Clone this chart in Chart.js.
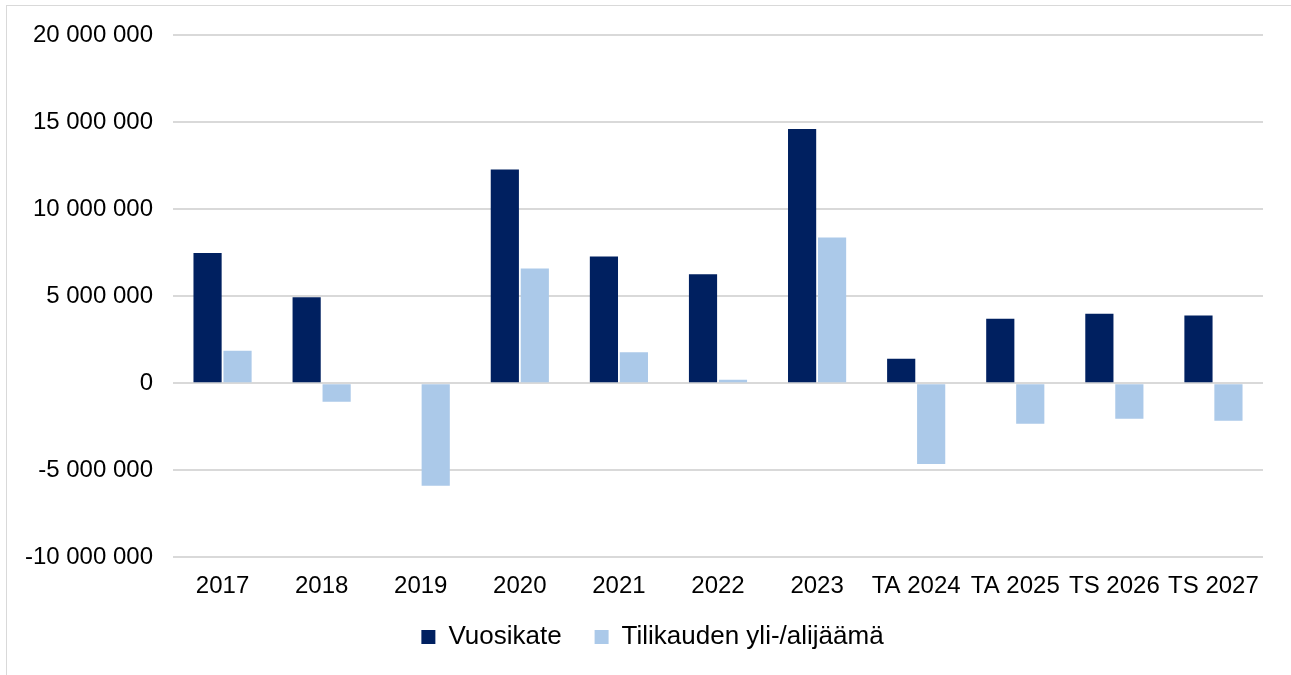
<!DOCTYPE html>
<html>
<head>
<meta charset="utf-8">
<script src="https://cdn.jsdelivr.net/npm/chart.js@4.4.1/dist/chart.umd.min.js"></script>
<style>
  html, body { margin: 0; padding: 0; background: #fff; overflow: hidden; }
  #frame {
    position: absolute; left: 6px; top: 5px; width: 1400px; height: 800px;
    border-left: 1px solid #d9d9d9; border-top: 1px solid #d9d9d9;
  }
  #wrap { position: absolute; left: 0; top: 0; width: 1291px; height: 675px; }
</style>
</head>
<body>
<div id="frame"></div>
<div id="wrap"><canvas id="chart"></canvas></div>
<script>
// categories and series
const categories = ['2017', '2018', '2019', '2020', '2021', '2022', '2023', 'TA 2024', 'TA 2025', 'TS 2026', 'TS 2027'];
const vuosikate  = [7480000, 4930000, 0, 12280000, 7280000, 6250000, 14600000, 1400000, 3700000, 3990000, 3890000];
const tilikausi  = [1860000, -1070000, -5900000, 6590000, 1780000, 200000, 8370000, -4650000, -2340000, -2050000, -2160000];
const yTicks     = [-10000000, -5000000, 0, 5000000, 10000000, 15000000, 20000000];

const NAVY  = '#002060';
const LIGHT = '#abc9e9';
const GRID  = '#d9d9d9';
const FONT  = "'Liberation Sans', Arial, sans-serif";

// 20 000 000 -muotoilu
function fmt(v) {
  const s = Math.abs(v).toString().replace(/\B(?=(\d{3})+(?!\d))/g, ' ');
  return (v < 0 ? '-' : '') + s;
}

// legend sits a bit right of centre and closer to the axis in the original
const legendShift = {
  id: 'legendShift',
  afterLayout(chart) {
    const lg = chart.legend;
    if (!lg) return;
    lg.left += 21; lg.right += 21;
    lg.top -= 25; lg.bottom -= 25;
    if (lg.adjustHitBoxes) lg.adjustHitBoxes();
  }
};

new Chart(document.getElementById('chart'), {
  type: 'bar',
  data: {
    labels: categories,
    datasets: [
      { label: 'Vuosikate', data: vuosikate, backgroundColor: NAVY,
        categoryPercentage: 0.605, barPercentage: 0.94 },
      { label: 'Tilikauden yli-/alijäämä', data: tilikausi, backgroundColor: LIGHT,
        categoryPercentage: 0.605, barPercentage: 0.94 }
    ]
  },
  plugins: [legendShift],
  options: {
    responsive: true,
    maintainAspectRatio: false,
    animation: false,
    layout: { padding: { top: 35, right: 28, bottom: -10, left: 0 } },
    plugins: {
      tooltip: { enabled: false },
      legend: {
        position: 'bottom',
        labels: {
          color: '#000',
          font: { family: FONT, size: 26 },
          boxWidth: 14, boxHeight: 14,
          padding: 33
        }
      }
    },
    scales: {
      x: {
        grid: { display: false, drawTicks: false },
        border: { display: false },
        ticks: { color: '#000', font: { family: FONT, size: 24 }, padding: 15, maxRotation: 0, autoSkip: false }
      },
      y: {
        min: -10000000, max: 20000000,
        afterFit(scale) { scale.width = 173; },
        afterBuildTicks(scale) { scale.ticks = yTicks.map(v => ({ value: v })); },
        grid: { color: GRID, lineWidth: 2, drawTicks: false },
        border: { display: false },
        ticks: { color: '#000', font: { family: FONT, size: 24 }, padding: 20, callback: v => fmt(v) }
      }
    }
  }
});
</script>
</body>
</html>
